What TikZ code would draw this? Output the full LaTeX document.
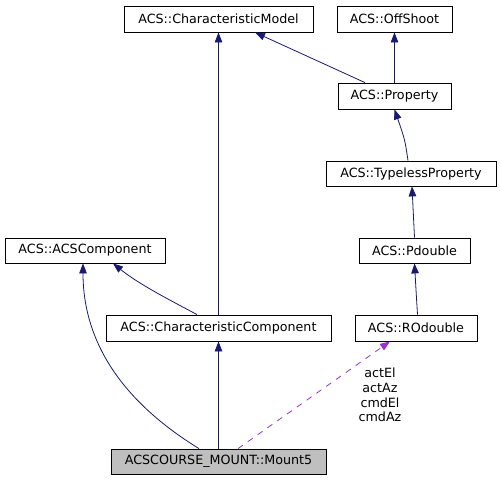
\documentclass[tikz,border=0pt]{standalone}
\usepackage{fontspec}
\setmainfont{DejaVu Sans}
\usetikzlibrary{arrows.meta}
\definecolor{edgeblue}{HTML}{191970}
\definecolor{edgepurple}{HTML}{9A32CD}
\definecolor{boxgray}{HTML}{BFBFBF}
\tikzset{
  cls/.style={draw=black, fill=white, line width=0.8pt, inner sep=0pt, minimum height=26pt,
    font=\fontsize{12.7}{14.7}\selectfont},
  inh/.style={draw=edgeblue, line width=0.8pt, -{Triangle[length=10pt,width=7.5pt]}, color=edgeblue},
  use/.style={draw=edgepurple, line width=0.8pt, dash pattern=on 6pt off 6pt,
    -{Triangle[length=10pt,width=7.5pt]}, color=edgepurple},
  lbl/.style={align=center, inner sep=0pt, font=\fontsize{12.7}{14.7}\selectfont}
}
\begin{document}
\begin{tikzpicture}[x=1pt,y=-1pt]
\useasboundingbox (0,0) rectangle (500,480);
\node[cls, minimum width=189pt] (cm) at (218.5,19) {ACS::CharacteristicModel};
\node[cls, minimum width=115pt] (os) at (394.5,19) {ACS::OffShoot};
\node[cls, minimum width=113pt] (prop) at (394.5,96) {ACS::Property};
\node[cls, minimum width=170pt, minimum height=25pt] (tp) at (411,173.5) {ACS::TypelessProperty};
\node[cls, minimum width=160pt, minimum height=25pt] (acsc) at (85,250.5) {ACS::ACSComponent};
\node[cls, minimum width=111pt, minimum height=25pt] (pd) at (414.5,250.5) {ACS::Pdouble};
\node[cls, minimum width=225pt] (cc) at (218.5,328) {ACS::CharacteristicComponent};
\node[cls, minimum width=122pt] (ro) at (416,328) {ACS::ROdouble};
\node[cls, fill=boxgray, minimum width=215pt, minimum height=25pt] (m5) at (218.5,461.5) {ACSCOURSE\_MOUNT::Mount5};

\draw[inh] ([xshift=-29.5pt]prop.north) -- ([xshift=36.5pt]cm.south);
\draw[inh] (prop.north) -- (os.south);
\draw[inh] ([xshift=-3pt]tp.north) .. controls (405,140) .. (prop.south);
\draw[inh] (pd.north) -- ([xshift=1pt]tp.south);
\draw[inh] ([xshift=1.5pt]ro.north) .. controls (416,290) .. (pd.south);
\draw[inh] (cc.north) -- (cm.south);
\draw[inh] ([xshift=-21.5pt]cc.north) .. controls (170,300) and (140,285) .. ([xshift=28pt]acsc.south);
\draw[inh] ([xshift=-19.5pt]m5.north) .. controls (120,400) and (83,340) .. ([xshift=-2pt]acsc.south);
\draw[inh] (m5.north) -- (cc.south);
\draw[use] ([xshift=19.5pt]m5.north) -- ([xshift=-26pt]ro.south);
\node[lbl] (lab) at (380,395) {actEl\\actAz\\cmdEl\\cmdAz};
\end{tikzpicture}
\end{document}
